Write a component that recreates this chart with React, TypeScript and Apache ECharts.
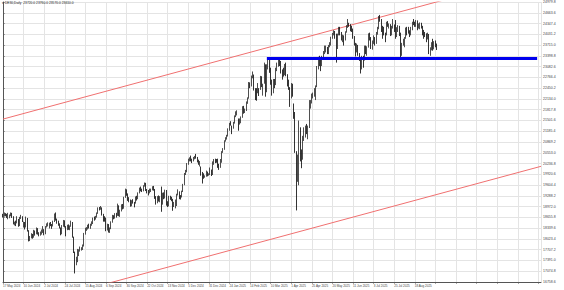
import React, { useEffect, useRef } from "react";
import * as echarts from "echarts";

const symbolName = "DE30";
const periodName = "Daily";

// daily bars: [open, close, low, high]
const candles: number[][] = [
  [18730,18704,18650,18760],[18700,18769,18680,18800],[18760,18726,18690,18780],[18730,18680,18640,18760],[18680,18691,18600,18790],
  [18690,18693,18630,18740],[18700,18774,18690,18800],[18770,18677,18640,18790],[18670,18473,18450,18690],[18470,18496,18420,18530],
  [18500,18498,18400,18560],[18520,18608,18480,18690],[18600,18405,18380,18610],[18410,18652,18400,18670],[18650,18653,18610,18730],
  [18650,18557,18520,18690],[18420,18494,18360,18530],[18490,18369,18300,18520],[18370,18630,18360,18680],[18620,18265,18240,18640],
  [18260,18002,17950,18280],[18000,18068,17960,18110],[18070,18131,18040,18190],[18130,18067,18030,18170],[18070,18254,18060,18290],
  [18250,18163,18120,18270],[18170,18325,18160,18360],[18320,18177,18150,18340],[18180,18155,18100,18220],[18150,18211,18120,18240],
  [18210,18235,18150,18300],[18260,18291,18200,18400],[18290,18164,18130,18310],[18170,18374,18160,18400],[18370,18450,18360,18480],
  [18450,18475,18390,18510],[18440,18472,18330,18500],[18470,18429,18400,18520],[18430,18407,18320,18460],[18410,18534,18390,18560],
  [18530,18748,18520,18770],[18740,18590,18560,18800],[18590,18518,18470,18620],[18520,18437,18410,18560],[18440,18354,18330,18480],
  [18350,18171,18130,18360],[18170,18407,18160,18430],[18410,18558,18380,18580],[18550,18387,18360,18570],[18380,18299,18100,18400],
  [18300,18417,18280,18440],[18420,18320,18290,18450],[18320,18411,18280,18420],[18410,18508,18380,18560],[18500,18083,18060,18520],
  [18080,17661,17610,18090],[17600,17339,17010,17650],[17340,17354,17250,17500],[17360,17615,17340,17730],[17610,17680,17520,17720],
  [17680,17722,17650,17800],[17720,17726,17680,17780],[17730,17812,17700,17860],[17810,18183,17800,18200],[18180,18321,18150,18350],
  [18320,18322,18260,18370],[18320,18421,18300,18440],[18420,18357,18330,18470],[18360,18449,18320,18470],[18450,18493,18410,18540],
  [18490,18633,18460,18650],[18630,18617,18560,18680],[18620,18681,18590,18700],[18680,18782,18650,18800],[18780,18912,18760,18950],
  [18910,18906,18860,18960],[18910,18930,18880,18990],[18930,18747,18710,18950],[18740,18592,18530,18760],[18590,18576,18530,18690],
  [18580,18302,18250,18650],[18300,18443,18270,18470],[18440,18266,18210,18460],[18270,18330,18200,18360],[18330,18518,18310,18540],
  [18520,18700,18500,18730],[18700,18633,18600,18720],[18630,18726,18620,18780],[18720,18711,18650,18790],[18710,19002,18700,19060],
  [19000,18720,18690,19010],[18720,18847,18670,18880],[18850,19000,18830,19040],[19000,18918,18890,19050],[18920,19238,18910,19260],
  [19240,19474,19230,19500],[19470,19325,19290,19480],[19320,19213,19140,19360],[19210,19164,19100,19250],[19160,19015,18970,19180],
  [19010,19121,18980,19160],[19120,19104,19060,19190],[19100,19066,18950,19110],[19070,19254,19060,19270],[19250,19210,19150,19290],
  [19210,19373,19190,19390],[19370,19508,19360,19530],[19510,19486,19420,19560],[19480,19432,19400,19500],[19430,19583,19420,19600],
  [19580,19657,19560,19680],[19650,19461,19430,19670],[19460,19421,19360,19490],[19420,19377,19300,19460],[19380,19443,19360,19500],
  [19440,19464,19400,19500],[19470,19531,19450,19570],[19530,19479,19440,19580],[19480,19257,19200,19490],[19260,19078,19030,19280],
  [19080,19254,19070,19280],[19250,19149,19120,19300],[19150,19256,19100,19280],[19250,19039,18820,19560],[19040,19362,19030,19380],
  [19360,19215,19190,19390],[19220,19448,19210,19470],[19450,19033,19000,19460],[19030,19024,18960,19130],[19020,19263,18980,19290],
  [19260,19211,19170,19290],[19210,19189,19130,19260],[19190,18988,18850,19200],[18990,19005,18960,19110],[19000,19146,18920,19180],
  [19150,19323,18990,19350],[19320,19405,19300,19480],[19400,19295,19190,19420],[19290,19262,19180,19310],[19260,19425,19240,19440],
  [19420,19626,19400,19640],[19620,19934,19600,19960],[19930,20016,19900,20050],[20010,20232,19980,20250],[20230,20358,20200,20380],
  [20360,20385,20300,20420],[20380,20346,20300,20470],[20350,20329,20250,20380],[20330,20399,20300,20430],[20400,20427,20360,20460],
  [20430,20405,20380,20520],[20400,20314,20270,20430],[20310,20246,20200,20350],[20240,20243,20150,20310],[20100,19970,19880,20150],
  [19970,19885,19650,19990],[19880,19849,19790,19950],[19850,19860,19820,19890],[19860,19984,19850,20030],[19980,19909,19860,20000],
  [19910,19920,19880,19950],[19930,20025,19900,20120],[20020,19906,19870,20060],[19910,20216,19900,20300],[20220,20341,20200,20370],
  [20340,20330,20250,20380],[20330,20317,20260,20370],[20320,20215,20110,20380],[20210,20132,20050,20230],[20130,20271,20110,20370],
  [20270,20575,20260,20600],[20580,20655,20550,20690],[20650,20903,20640,20920],[20900,20990,20880,21010],[20990,21043,20940,21080],
  [21040,21255,21030,21270],[21250,21411,21200,21430],[21410,21394,21350,21480],[21300,21282,21100,21350],[21280,21430,21260,21460],
  [21430,21637,21410,21650],[21640,21727,21600,21770],[21730,21732,21650,21800],[21450,21428,21200,21560],[21430,21505,21380,21560],
  [21500,21586,21420,21620],[21590,21902,21580,21920],[21900,21787,21700,21930],[21790,21800,21720,21850],[21800,22037,21780,22060],
  [22030,22148,21990,22180],[22150,22612,22140,22630],[22610,22513,22450,22620],[22510,22798,22500,22820],[22800,22844,22740,22940],
  [22840,22433,22380,22850],[22430,22314,22100,22450],[22310,22287,22080,22450],[22420,22426,22300,22600],[22420,22410,22220,22450],
  [22410,22794,22400,22810],[22790,22551,22480,22800],[22550,22551,22230,22580],[22600,23147,22580,23200],[23100,22327,22200,23150],
  [22350,23081,22330,23150],[23080,23250,23000,23320],[23240,23009,22900,23280],[23000,22620,22550,23050],[22620,22329,22230,22700],
  [22330,22676,22300,22720],[22670,22567,22450,22720],[22560,22987,22540,23050],[22990,23154,22950,23200],[23150,23250,23080,23315],
  [23250,23220,23100,23290],[23220,22999,22880,23250],[22990,22892,22700,23000],[22890,22852,22790,23050],[22850,23109,22830,23160],
  [23100,22839,22800,23200],[22840,22679,22500,22860],[22680,22461,22400,22700],[22460,22163,21900,22480],[22160,22539,22150,22600],
  [22540,22390,22200,22580],[21800,21717,21550,22000],[21700,20642,20550,21750],[20300,19790,18860,20600],[19800,20280,19700,20500],
  [20270,20900,19600,21500],[20900,20563,20300,21300],[20560,20374,20100,20650],[20370,20954,20350,21050],[20950,21254,20900,21300],
  [21250,21311,21000,21350],[21310,21206,21100,21400],[21200,21294,20950,21350],[21290,21962,21280,22100],[21960,22064,21850,22100],
  [22060,22242,22000,22290],[22240,22271,22150,22320],[22270,22426,22200,22450],[22430,22497,22100,22530],[22500,23087,22480,23100],
  [23080,23345,23000,23370],[23340,23249,23100,23400],[23250,23116,22950,23300],[23110,23352,23100,23400],[23350,23499,23300,23540],
  [23500,23567,23450,23700],[23570,23638,23500,23700],[23640,23527,23450,23660],[23520,23695,23450,23720],[23700,23767,23650,23800],
  [23760,23934,23700,23960],[23930,24036,23900,24070],[24030,24123,24000,24150],[24120,23999,23900,24130],[24000,23630,23200,24050],
  [23640,24028,23600,24050],[24030,24227,24000,24250],[24220,24038,24000,24250],[24040,23934,23850,24100],[23930,23997,23800,24020],
  [23990,23930,23700,24000],[23930,24092,23850,24120],[24090,24276,24080,24300],[24270,24324,24220,24480],[24320,24304,24250,24370],
  [24300,24174,24120,24330],[24170,24163,24100,24280],[24160,23948,23900,24200],[23950,23771,23700,23980],[23770,23516,23380,23780],
  [23520,23699,23500,23760],[23700,23434,23400,23720],[23430,23317,23250,23480],[23310,23057,22880,23350],[23060,23350,23000,23400],
  [23350,23269,23050,23400],[23270,23641,23260,23700],[23640,23498,23450,23700],[23500,23649,23400,23680],[23650,24033,23640,24060],
  [24030,23910,23850,24080],[23910,23673,23600,23950],[23670,23790,23580,23850],[23790,23934,23750,24000],[23930,23787,23700,23950],
  [23790,24074,23750,24100],[24070,24206,24020,24250],[24200,24549,24180,24570],[24550,24456,24400,24600],[24450,24255,24100,24480],
  [24250,24160,23900,24280],[24160,24060,24000,24250],[24060,24009,23800,24080],[24010,24370,24000,24400],[24370,24290,24250,24420],
  [24290,24307,24200,24350],[24300,24042,23980,24330],[24040,24240,24000,24280],[24240,24296,24200,24480],[24290,24217,24100,24320],
  [24220,23970,23900,24450],[23970,24217,23950,24240],[24210,24262,24100,24300],[24260,24065,23980,24280],[24060,23426,23350,24080],
  [23430,23757,23400,23780],[23760,23846,23700,23900],[23840,23925,23650,23950],[23920,24193,23900,24230],[24190,24162,24000,24250],
  [24160,24081,24050,24250],[24080,24024,23950,24150],[24020,24186,24000,24250],[24190,24377,24150,24400],[24370,24359,24300,24480],
  [24360,24314,24250,24400],[24310,24423,24250,24450],[24420,24277,24150,24440],[24280,24293,24200,24350],[24290,24363,24180,24380],
  [24360,24273,24200,24370],[24270,24152,24000,24280],[24150,24046,23900,24160],[24040,24039,23950,24100],[24040,23902,23800,24060],
  [23900,24037,23880,24080],[24030,23487,23450,24040],[23490,23595,23400,23650],[23590,23770,23560,23800],[23770,23597,23550,23900],
  [23600,23807,23590,23830],[23800,23718,23650,23850],[23720,23610,23570,23760],
];

const dateLabels = [
  "17 May 2024", "10 Jun 2024", "2 Jul 2024", "24 Jul 2024", "15 Aug 2024", "6 Sep 2024", "30 Sep 2024",
  "22 Oct 2024", "13 Nov 2024", "5 Dec 2024", "31 Dec 2024", "24 Jan 2025", "14 Feb 2025", "10 Mar 2025",
  "1 Apr 2025", "25 Apr 2025", "20 May 2025", "11 Jun 2025", "3 Jul 2025", "25 Jul 2025", "18 Aug 2025",
];

const priceMin = 16758.6;
const priceMax = 24979.8;
const priceStep = 316.2;
const barsPerLabel = 16;
const barsOnScreen = 418;

const upperChannel = [[0, 21542], [418, 25810]];
const lowerChannel = [[0, 15887], [418, 20155]];
const supportLine = [[205, 23320], [415, 23320]];

const FONT = "Liberation Sans, Arial, sans-serif";

export default function App() {
  const ref = useRef<HTMLDivElement>(null);
  useEffect(() => {
    if (!ref.current) return;
    const chart = echarts.init(ref.current, null, { renderer: "svg" });
    const last = candles[candles.length - 1];
    const title = `▾ ${symbolName},${periodName}  ${last[0].toFixed(1)} ${last[3].toFixed(1)} ${last[2].toFixed(1)} ${last[1].toFixed(1)}`;
    chart.setOption({
      animation: false,
      backgroundColor: "#ffffff",
      textStyle: { fontFamily: FONT },
      title: {
        text: title,
        left: 2,
        top: 1,
        padding: 0,
        textStyle: { fontSize: 3.3, fontWeight: "normal", color: "#222", fontFamily: FONT },
      },
      grid: { left: 1, right: 23, top: 1, bottom: 8, containLabel: false },
      xAxis: {
        type: "value",
        min: 0,
        max: barsOnScreen,
        interval: barsPerLabel,
        position: "bottom",
        axisLine: { show: true, lineStyle: { color: "#555", width: 1 } },
        axisTick: { show: true, length: 1.5, lineStyle: { color: "#555" } },
        axisLabel: {
          show: true,
          fontSize: 3,
          color: "#444",
          margin: 2,
          align: "left",
          fontFamily: FONT,
          showMaxLabel: false,
          formatter: (v: number) => {
            const k = Math.round(v / barsPerLabel);
            return Math.abs(v - k * barsPerLabel) < 0.01 && dateLabels[k] ? dateLabels[k] : "";
          },
        },
        splitLine: { show: true, lineStyle: { color: "#e4e4e4", width: 1 } },
      },
      yAxis: {
        type: "value",
        position: "right",
        min: priceMin,
        max: priceMax,
        interval: priceStep,
        scale: true,
        axisLine: { show: true, lineStyle: { color: "#555", width: 1 } },
        axisTick: { show: true, length: 1.5, lineStyle: { color: "#555" } },
        axisLabel: {
          fontSize: 3.5,
          color: "#444",
          margin: 2,
          fontFamily: FONT,
          formatter: (v: number) => v.toFixed(1),
        },
        splitLine: { show: true, lineStyle: { color: "#e4e4e4", width: 1 } },
      },
      series: [
        {
          type: "line",
          data: upperChannel,
          showSymbol: false,
          symbol: "none",
          clip: true,
          lineStyle: { color: "#f07070", width: 1 },
          z: 1,
        },
        {
          type: "line",
          data: lowerChannel,
          showSymbol: false,
          symbol: "none",
          clip: true,
          lineStyle: { color: "#f07070", width: 1 },
          z: 1,
        },
        {
          type: "candlestick",
          data: candles.map((c, i) => [i, c[0], c[1], c[2], c[3]]),
          encode: { x: 0, y: [1, 2, 3, 4] },
          barWidth: 0.8,
          clip: true,
          itemStyle: {
            color: "#ffffff",
            color0: "#000000",
            borderColor: "#222222",
            borderColor0: "#000000",
            borderWidth: 0.8,
          },
          markLine: {
            symbol: "none",
            silent: true,
            data: [{ yAxis: last[1] }],
            lineStyle: { opacity: 0 },
            label: {
              show: true,
              position: "end",
              distance: 1,
              formatter: () => last[1].toFixed(1),
              color: "#ffffff",
              backgroundColor: "#111111",
              fontSize: 3.5,
              padding: [0.6, 1.5, 0.6, 1.5],
              fontFamily: FONT,
            },
          },
          z: 3,
        },
        {
          type: "line",
          data: supportLine,
          showSymbol: false,
          symbol: "none",
          clip: true,
          lineStyle: { color: "#0000ee", width: 3, cap: "butt" },
          z: 4,
        },
      ],
    });
    return () => chart.dispose();
  }, []);
  return (
    <div
      ref={ref}
      style={{ position: "fixed", left: 0, top: 0, width: 564, height: 290, background: "#fff" }}
    />
  );
}
